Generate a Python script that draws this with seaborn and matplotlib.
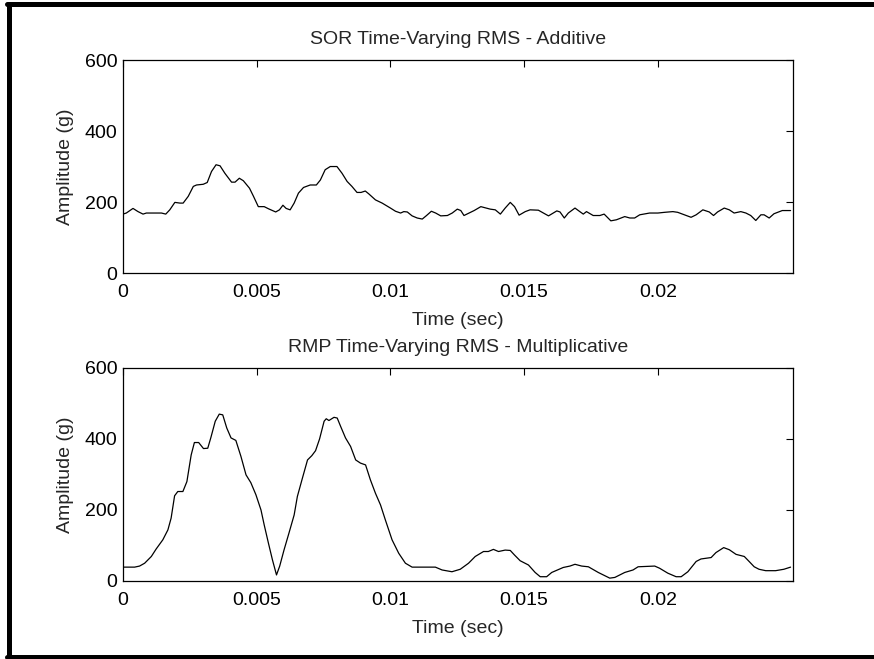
# SOR / RMP time-varying RMS comparison
import numpy as np
import pandas as pd
import matplotlib
matplotlib.use("Agg")
import matplotlib.pyplot as plt
from matplotlib.lines import Line2D
import seaborn as sns

# -------------------------------
# 1. DATA
# -------------------------------
t_sor = [0, 0.000125, 0.000375, 0.000563, 0.00075, 0.000875, 0.00144, 0.0016, 0.00175, 0.00194,
         0.00213, 0.00225, 0.00244, 0.00263, 0.00275, 0.003, 0.00315, 0.00331, 0.00348, 0.00363,
         0.00381, 0.00406, 0.00419, 0.00435, 0.0045, 0.00473, 0.00488, 0.00506, 0.00528, 0.00544,
         0.00571, 0.00585, 0.00598, 0.0061, 0.00625, 0.0064, 0.00656, 0.00675, 0.007, 0.00723,
         0.00738, 0.00756, 0.00775, 0.008, 0.00819, 0.00838, 0.00856, 0.00875, 0.0089, 0.00906,
         0.00919, 0.00944, 0.00969, 0.01, 0.01019, 0.01038, 0.0105, 0.01063, 0.01081, 0.011,
         0.01119, 0.01135, 0.01153, 0.01169, 0.01188, 0.01213, 0.01231, 0.0125, 0.01263, 0.01275,
         0.01294, 0.01313, 0.01338, 0.01373, 0.01392, 0.01411, 0.01429, 0.01448, 0.01464, 0.01481,
         0.01504, 0.01522, 0.01553, 0.01591, 0.01622, 0.01634, 0.0165, 0.01665, 0.0169, 0.01708,
         0.01721, 0.01733, 0.01758, 0.01783, 0.01799, 0.01824, 0.01845, 0.01876, 0.01895, 0.01913,
         0.01932, 0.01969, 0.02, 0.02025, 0.02056, 0.02074, 0.02099, 0.02124, 0.02143, 0.02168,
         0.02192, 0.02208, 0.02223, 0.02248, 0.02267, 0.02285, 0.0231, 0.02329, 0.02347, 0.02366,
         0.02385, 0.02397, 0.02416, 0.02434, 0.02465, 0.02496]
a_sor = [166, 169, 182, 173, 166, 169, 169, 166, 178, 199,
         197, 197, 216, 244, 248, 250, 255, 286, 305, 302,
         281, 256, 256, 267, 260, 239, 216, 187, 187, 181,
         172, 178, 191, 182, 178, 197, 225, 241, 248, 248,
         262, 291, 300, 300, 281, 258, 244, 227, 227, 231,
         223, 206, 197, 183, 174, 169, 173, 172, 161, 155,
         152, 162, 174, 169, 161, 162, 169, 180, 176, 162,
         169, 176, 187, 180, 178, 166, 183, 199, 187, 163,
         173, 178, 177, 161, 175, 172, 155, 169, 183, 173,
         166, 173, 162, 162, 166, 147, 150, 159, 155, 155,
         164, 169, 169, 171, 173, 171, 164, 157, 164, 178,
         172, 162, 172, 183, 178, 169, 173, 169, 162, 148,
         164, 164, 155, 167, 176, 176]

t_rmp = [0, 0.000435, 0.00062, 0.00081, 0.00106, 0.00124, 0.00149, 0.00168, 0.0018, 0.00193,
         0.00205, 0.00224, 0.00239, 0.00255, 0.00267, 0.00283, 0.00301, 0.00317, 0.00329, 0.00345,
         0.0036, 0.00373, 0.00388, 0.00404, 0.00422, 0.00441, 0.0046, 0.00478, 0.00497, 0.00516,
         0.00528, 0.00544, 0.00559, 0.00574, 0.00586, 0.00602, 0.00621, 0.0064, 0.00652, 0.00671,
         0.0069, 0.00706, 0.0072, 0.00735, 0.00752, 0.0076, 0.0077, 0.00789, 0.00801, 0.00814,
         0.00832, 0.00851, 0.0087, 0.00888, 0.00907, 0.00925, 0.00944, 0.00963, 0.00981, 0.01006,
         0.01031, 0.01056, 0.01081, 0.01168, 0.01193, 0.0123, 0.01261, 0.01292, 0.01317, 0.01348,
         0.01366, 0.01385, 0.01404, 0.01429, 0.01448, 0.01464, 0.01485, 0.01516, 0.01541, 0.0156,
         0.01584, 0.01603, 0.01646, 0.01671, 0.0169, 0.01715, 0.0174, 0.01777, 0.0182, 0.01839,
         0.01876, 0.01907, 0.01926, 0.01988, 0.02006, 0.02037, 0.02068, 0.02087, 0.02112, 0.02143,
         0.02161, 0.02199, 0.02217, 0.02246, 0.02267, 0.02292, 0.02323, 0.02341, 0.0236, 0.02378,
         0.02403, 0.0244, 0.02471, 0.02496]
a_rmp = [39, 39, 42, 50, 69, 90, 116, 144, 177, 240,
         252, 252, 280, 355, 390, 390, 373, 374, 405, 450,
         470, 468, 431, 403, 396, 351, 299, 277, 243, 200,
         158, 106, 59, 17, 42, 87, 136, 186, 238, 290,
         341, 353, 367, 400, 450, 457, 452, 461, 459, 435,
         403, 379, 341, 332, 327, 285, 247, 214, 172, 116,
         78, 50, 39, 39, 31, 26, 33, 50, 69, 83,
         83, 89, 83, 87, 86, 73, 57, 45, 24, 12,
         12, 24, 38, 42, 47, 42, 40, 24, 8, 10,
         24, 31, 40, 42, 36, 22, 12, 12, 26, 55,
         62, 66, 80, 94, 88, 75, 69, 55, 40, 33,
         29, 29, 33, 39]

titles = ["SOR Time-Varying RMS - Additive", "RMP Time-Varying RMS - Multiplicative"]
x_ticks = [0, 0.005, 0.01, 0.015, 0.02]
x_ticklabels = ["0", "0.005", "0.01", "0.015", "0.02"]
y_ticks = [0, 200, 400, 600]

sor = pd.DataFrame({"Time": t_sor, "Amplitude": a_sor})
rmp = pd.DataFrame({"Time": t_rmp, "Amplitude": a_rmp})

# -------------------------------
# 2. PLOT
# -------------------------------
sns.set_style("white")
plt.rcParams["font.family"] = ["Liberation Sans", "DejaVu Sans"]
fs = 14

fig = plt.figure(figsize=(8.74, 6.59), dpi=100)
ax1 = fig.add_axes([0.1407, 0.5857, 0.7666, 0.3232])
ax2 = fig.add_axes([0.1407, 0.1184, 0.7666, 0.3232])

for ax, df, title in zip([ax1, ax2], [sor, rmp], titles):
    sns.lineplot(data=df, x="Time", y="Amplitude", ax=ax, color="black", linewidth=0.9)
    ax.set_xlim(0, 0.02505)
    ax.set_ylim(0, 600)
    ax.set_xticks(x_ticks)
    ax.set_xticklabels(x_ticklabels)
    ax.set_yticks(y_ticks)
    ax.tick_params(direction="in", length=5, width=0.8, top=True, right=True,
                   labelsize=fs, colors="black")
    ax.tick_params(axis="x", pad=8)
    ax.tick_params(axis="y", pad=4)
    ax.set_xlabel("Time (sec)", fontsize=fs, labelpad=7.5)
    ax.set_ylabel("Amplitude (g)", fontsize=fs, labelpad=8)
    ax.set_title(title, fontsize=fs, pad=11.5)
    for sp in ax.spines.values():
        sp.set_color("black")
        sp.set_linewidth(0.9)

# frame round the figure (left, top, bottom)
fig.add_artist(Line2D([0.0105, 0.0105], [0.0025, 0.9945], transform=fig.transFigure,
                      color="black", linewidth=3.6))
fig.add_artist(Line2D([0.0085, 1.0], [0.9945, 0.9945], transform=fig.transFigure,
                      color="black", linewidth=3.6))
fig.add_artist(Line2D([0.0085, 1.0], [0.0025, 0.0025], transform=fig.transFigure,
                      color="black", linewidth=3.6))

fig.savefig("out.png", dpi=100)
